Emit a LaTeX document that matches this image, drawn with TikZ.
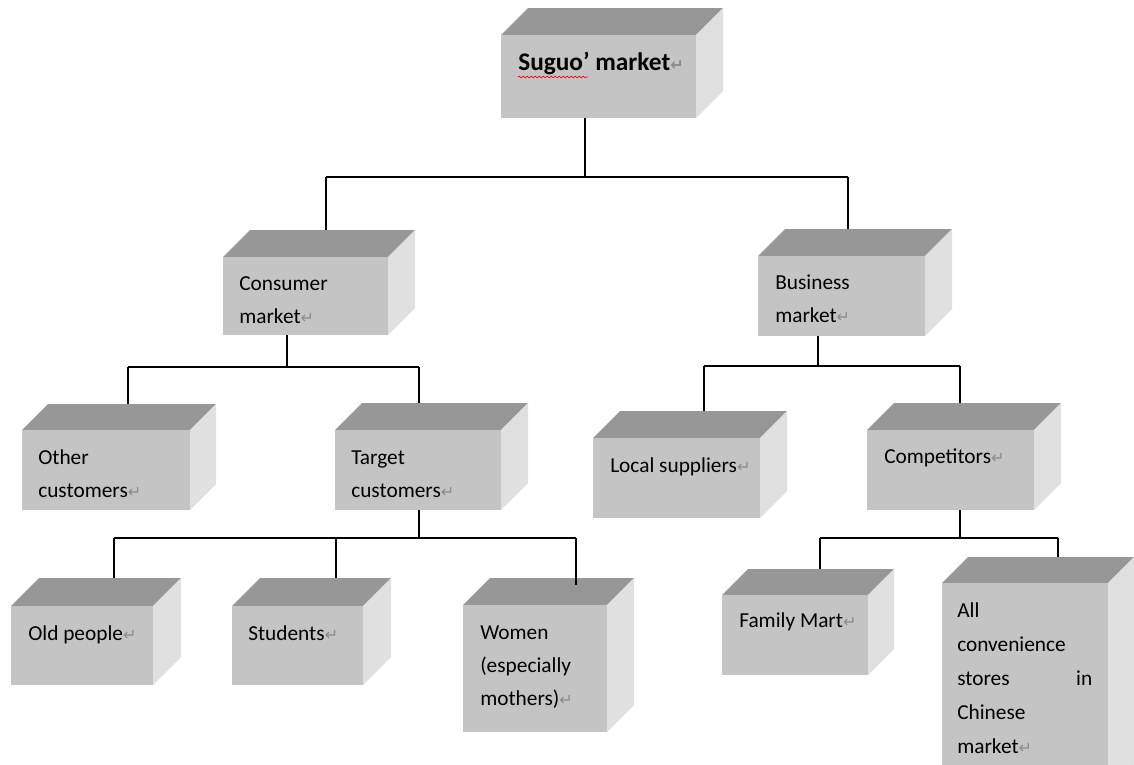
\documentclass[tikz,border=0pt]{standalone}
\usepackage{fontspec}
\setmainfont{Carlito}
\newfontfamily\symfont{DejaVu Sans}
\usetikzlibrary{fit,decorations.pathmorphing}
\definecolor{frontc}{HTML}{C4C4C4}
\definecolor{topc}{HTML}{979797}
\definecolor{sidec}{HTML}{E0E0E0}
\definecolor{markc}{HTML}{8C8C8C}
\newcommand\pmk{{\symfont\fontsize{12}{12}\selectfont\textcolor{markc}{↵}}}
% name, L, T, R, B, depth  (pixel coordinates)
\newcommand\cubox[6]{%
  \fill[topc] (#2,#3) -- ++(#6,-#6) -- (#4+#6,#3-#6) -- (#4,#3) -- cycle;
  \fill[sidec] (#4,#3) -- (#4+#6,#3-#6) -- (#4+#6,#5-#6) -- (#4,#5) -- cycle;
  \coordinate (#1-nw) at (#2,#3);
  \coordinate (#1-se) at (#4,#5);
  \node[frontbox, fit=(#1-nw)(#1-se)] (#1) {};
  \coordinate (#1-back) at (#2+#6,#3-#6);
}
\begin{document}
\begin{tikzpicture}[x=0.75pt,y=-0.75pt,
  frontbox/.style={fill=frontc, inner sep=0pt, outer sep=0pt},
  lbl/.style={font=\fontsize{16}{24.75}\selectfont, align=left, inner sep=0pt, anchor=base west, text=black},
  rootlbl/.style={font=\fontsize{19}{24.75}\selectfont\bfseries, inner sep=0pt, anchor=base west, text=black},
  conn/.style={draw=black, line width=1pt}]
\useasboundingbox (0,0) rectangle (1134,764);

% ---- junction coordinates
\coordinate (r-j) at (585,177); \coordinate (r-l) at (326,177); \coordinate (r-r) at (848,177);
\coordinate (c-j) at (287,367); \coordinate (c-l) at (128,367); \coordinate (c-r) at (419,367);
\coordinate (b-j) at (818,366); \coordinate (b-l) at (704,366); \coordinate (b-r) at (960,366);
\coordinate (t-j) at (419,538); \coordinate (t-l) at (114,538); \coordinate (t-m) at (336,538); \coordinate (t-r) at (576,538);
\coordinate (k-j) at (960,538); \coordinate (k-l) at (820,538); \coordinate (k-r) at (1058,538);

% ---- boxes
\cubox{root}{501}{35}{696}{118}{27}
\cubox{cons}{223}{257}{388}{335}{27}
\cubox{bus}{758}{256}{925}{336}{27}
\cubox{other}{22}{430}{190}{510}{26}
\cubox{target}{335}{430}{501}{510}{27}
\cubox{local}{593}{438}{760}{518}{27}
\cubox{comp}{867}{430}{1034}{510}{27}
\cubox{old}{11}{606}{153}{685}{28}
\cubox{stud}{232}{606}{363}{685}{28}
\cubox{women}{463}{605}{607}{732}{27}
\cubox{family}{722}{595}{868}{675}{26}
\cubox{allc}{942}{583}{1108}{790}{26}

% ---- connectors
\draw[conn] (root.south -| r-j) -- (r-j) (r-l) -- (r-r)
  (r-l) -- (r-l |- cons-back) (r-r) -- (r-r |- bus-back);
\draw[conn] (cons.south -| c-j) -- (c-j) (c-l) -- (c-r)
  (c-l) -- (c-l |- other-back) (c-r) -- (c-r |- target-back);
\draw[conn] (bus.south -| b-j) -- (b-j) (b-l) -- (b-r)
  (b-l) -- (b-l |- local-back) (b-r) -- (b-r |- comp-back);
\draw[conn] (target.south -| t-j) -- (t-j) (t-l) -- (t-r)
  (t-l) -- (t-l |- old-back) (t-m) -- (t-m |- stud-back) (t-r) -- ([yshift=-5pt]t-r |- women-back);
\draw[conn] (comp.south -| k-j) -- (k-j) (k-l) -- (k-r)
  (k-l) -- (k-l |- family-back) (k-r) -- (k-r |- allc-back);

% ---- labels (multi-line: anchor is the baseline of the last line)
\node[rootlbl] (root-t) at (518,70) {Suguo’ market\pmk};
\draw[red, line width=0.5pt, decorate, decoration={snake, amplitude=0.6pt, segment length=3pt}]
  ([shift={(0,7)}]root-t.base west) -- ([shift={(70,7)}]root-t.base west);
\node[lbl] (cons-t) at (239,323) {Consumer\\market\pmk};
\node[lbl] (bus-t) at (775,322) {Business\\market\pmk};
\node[lbl] (other-t) at (38,497) {Other\\customers\pmk};
\node[lbl] (target-t) at (351,497) {Target\\customers\pmk};
\node[lbl] (local-t) at (610,472) {Local suppliers\pmk};
\node[lbl] (comp-t) at (884,463) {Competitors\pmk};
\node[lbl] (old-t) at (28,640) {Old people\pmk};
\node[lbl] (stud-t) at (248,640) {Students\pmk};
\node[lbl] (women-t) at (480,705) {Women\\(especially\\mothers)\pmk};
\node[lbl] (family-t) at (739,627) {Family Mart\pmk};
\node[lbl, font=\fontsize{16}{25.5}\selectfont] (allc-t) at (957,753) {All\\convenience\\\makebox[101.25pt][l]{stores\hfill in}\\Chinese\\market\pmk};
\end{tikzpicture}
\end{document}
